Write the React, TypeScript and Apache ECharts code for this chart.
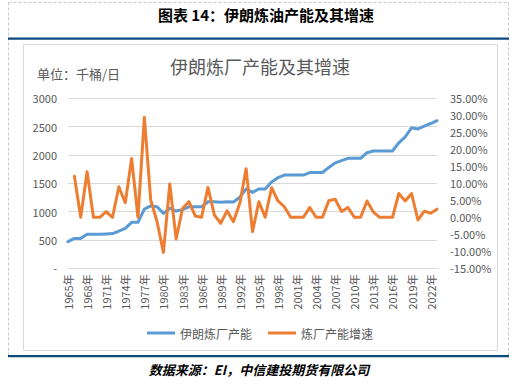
import React, { useEffect, useRef } from "react";
import * as echarts from "echarts";

const years: string[] = [];
for (let y = 1965; y <= 2023; y++) years.push(y + "年");

const capacity = [
  470, 528, 528, 600, 600, 600, 605, 612, 658, 706,
  812, 812, 1046, 1100, 1085, 970, 1060, 1010, 1035, 1085,
  1085, 1085, 1175, 1175, 1165, 1175, 1170, 1255, 1400, 1340,
  1400, 1400, 1525, 1600, 1645, 1645, 1645, 1645, 1690, 1690,
  1690, 1780, 1860, 1900, 1940, 1940, 1940, 2040, 2070, 2070,
  2070, 2070, 2215, 2320, 2480, 2460, 2510, 2555, 2605,
];

const growth: (number | null)[] = [
  null, 12.1, 0, 13.4, 0, 0, 1.7, 0, 9.0, 4.3,
  17.3, 0, 29.4, 5.1, -1.3, -10.3, 9.8, -6.4, 2.6, 4.6,
  0.4, 0, 8.8, 0.7, -1.8, 1.9, -1.3, 4.1, 14.3, -4.2,
  4.6, 0, 8.7, 4.8, 3.1, 0, 0, 0, 2.9, 0,
  0, 4.9, 5.3, 1.7, 2.9, 0, 0, 4.8, 1.5, 0,
  0, 0, 7.0, 4.8, 7.0, -0.8, 1.8, 1.2, 2.4,
];

const seriesNames = ["伊朗炼厂产能", "炼厂产能增速"];
const figTitle = "图表 14：伊朗炼油产能及其增速";
const chartTitle = "伊朗炼厂产能及其增速";
const unitText = "单位：千桶/日";
const sourceText = "数据来源：EI，中信建投期货有限公司";

const FONT = "'Noto Sans CJK SC', 'Noto Sans', sans-serif";

export default function App() {
  const ref = useRef<HTMLDivElement>(null);
  useEffect(() => {
    if (!ref.current) return;
    const chart = echarts.init(ref.current, undefined, { renderer: "svg" });
    chart.setOption({
      animation: false,
      backgroundColor: "#ffffff",
      textStyle: { fontFamily: FONT },
      graphic: [
        {
          type: "rect",
          shape: { x: 8.5, y: 2.5, width: 500, height: 354 },
          style: { fill: "none", stroke: "#c8c8c8", lineWidth: 1, lineDash: [3, 2] },
          silent: true,
        },
        {
          type: "rect",
          shape: { x: 23.5, y: 44.5, width: 474, height: 306 },
          style: { fill: "none", stroke: "#d9d9d9", lineWidth: 1 },
          silent: true,
        },
        {
          type: "rect",
          shape: { x: 8, y: 37.5, width: 501, height: 2.2 },
          style: { fill: "#0d4a7e" },
          silent: true,
        },
        {
          type: "rect",
          shape: { x: 8, y: 355, width: 501, height: 2.2 },
          style: { fill: "#0d4a7e" },
          silent: true,
        },
        {
          type: "text",
          x: 266,
          y: 14,
          style: {
            text: figTitle,
            fontSize: 15,
            fontWeight: "bold",
            fontFamily: FONT,
            fill: "#000",
            align: "center",
            verticalAlign: "middle",
          },
        },
        {
          type: "text",
          x: 260,
          y: 66,
          style: {
            text: chartTitle,
            fontSize: 18,
            fontFamily: FONT,
            fill: "#595959",
            align: "center",
            verticalAlign: "middle",
          },
        },
        {
          type: "text",
          x: 37,
          y: 73,
          style: {
            text: unitText,
            fontSize: 13,
            fontFamily: FONT,
            fill: "#595959",
            align: "left",
            verticalAlign: "middle",
          },
        },
        {
          type: "text",
          x: 259,
          y: 369,
          style: {
            text: sourceText,
            fontSize: 13,
            fontWeight: "bold",
            fontStyle: "italic",
            fontFamily: FONT,
            fill: "#000",
            align: "center",
            verticalAlign: "middle",
          },
        },
      ],
      legend: {
        data: seriesNames,
        top: 322,
        left: "center",
        icon: "rect",
        itemWidth: 28,
        itemHeight: 3,
        itemGap: 16,
        textStyle: { color: "#595959", fontSize: 12, fontFamily: FONT },
      },
      grid: { left: 68, right: 83, top: 98.3, bottom: 119.7 },
      xAxis: {
        type: "category",
        data: years,
        boundaryGap: false,
        axisLine: { lineStyle: { color: "#d9d9d9" } },
        axisTick: { show: false },
        axisLabel: {
          interval: 2,
          rotate: 90,
          color: "#595959",
          fontSize: 11,
          margin: 6,
          fontFamily: FONT,
        },
      },
      yAxis: [
        {
          type: "value",
          min: 0,
          max: 3000,
          interval: 500,
          axisLine: { show: false },
          axisTick: { show: false },
          splitLine: { lineStyle: { color: "#d9d9d9" } },
          axisLabel: {
            color: "#595959",
            fontSize: 11,
            margin: 11,
            fontFamily: FONT,
            formatter: (v: number) => (v === 0 ? "-" : String(v)),
          },
        },
        {
          type: "value",
          min: -15,
          max: 35,
          interval: 5,
          axisLine: { show: false },
          axisTick: { show: false },
          splitLine: { show: false },
          axisLabel: {
            color: "#595959",
            fontSize: 11,
            margin: 13,
            fontFamily: FONT,
            formatter: (v: number) => v.toFixed(2) + "%",
          },
        },
      ],
      series: [
        {
          name: seriesNames[0],
          type: "line",
          data: capacity,
          yAxisIndex: 0,
          symbol: "none",
          lineStyle: { color: "#5b9bd5", width: 3, join: "round", cap: "round" },
          itemStyle: { color: "#5b9bd5" },
        },
        {
          name: seriesNames[1],
          type: "line",
          data: growth,
          yAxisIndex: 1,
          symbol: "none",
          lineStyle: { color: "#ed7d31", width: 3, join: "round", cap: "round" },
          itemStyle: { color: "#ed7d31" },
        },
      ],
    });
    return () => chart.dispose();
  }, []);
  return (
    <div
      ref={ref}
      style={{ position: "absolute", left: 0, top: 0, width: 520, height: 388 }}
    />
  );
}
